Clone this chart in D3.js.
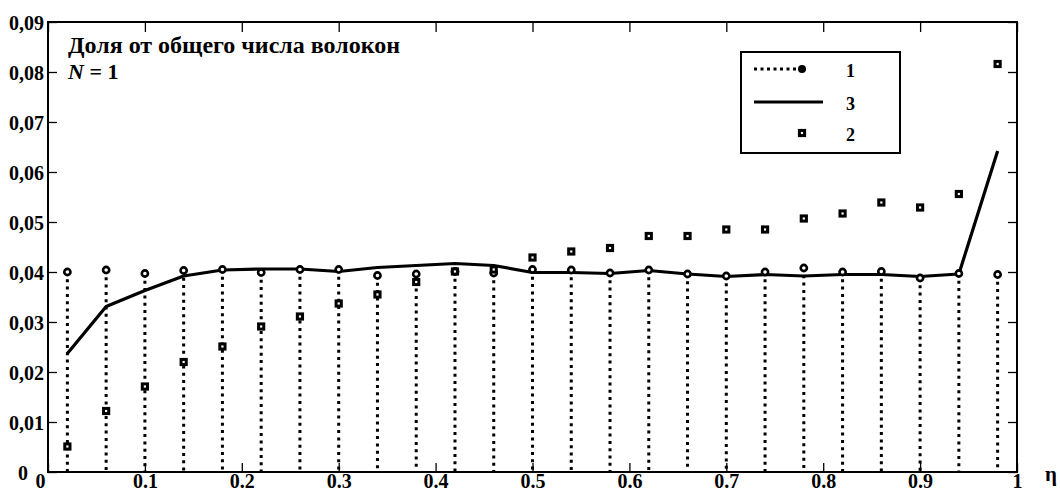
<!DOCTYPE html>
<html lang="ru">
<head>
  <meta charset="UTF-8">
  <title>Доля от общего числа волокон</title>
  <style>
    body { margin: 0; background: #fff; }
    svg { display: block; }
    .tick text, .lbl { font-family: "Liberation Serif", "Times New Roman", serif; font-weight: bold; fill: #000; }
  </style>
</head>
<body>
  <svg id="chart" width="1060" height="492"></svg>

  <script src="https://d3js.org/d3.v7.min.js"></script>
  <script>
    // --- данные ---
    const eta = [0.02, 0.06, 0.10, 0.14, 0.18, 0.22, 0.26, 0.30, 0.34, 0.38, 0.42, 0.46, 0.50,
                 0.54, 0.58, 0.62, 0.66, 0.70, 0.74, 0.78, 0.82, 0.86, 0.90, 0.94, 0.98];
    // кривая 1: точки со штриховыми стойками
    const series1 = [0.0400, 0.0404, 0.0397, 0.0403, 0.0405, 0.0399, 0.0405, 0.0405, 0.0393, 0.0396, 0.0401, 0.0398, 0.0405,
                     0.0404, 0.0398, 0.0404, 0.0396, 0.0392, 0.0400, 0.0408, 0.0400, 0.0401, 0.0388, 0.0397, 0.0395];
    // кривая 2: квадраты
    const series2 = [0.0051, 0.0122, 0.0171, 0.0220, 0.0251, 0.0291, 0.0311, 0.0337, 0.0355, 0.0380, 0.0401, 0.0405, 0.0429,
                     0.0441, 0.0448, 0.0472, 0.0472, 0.0485, 0.0485, 0.0507, 0.0517, 0.0539, 0.0529, 0.0556, 0.0816];
    // кривая 3: сплошная линия
    const series3 = [0.0237, 0.0331, 0.0363, 0.0392, 0.0404, 0.0406, 0.0406, 0.0401, 0.0409, 0.0413, 0.0417, 0.0413, 0.0399,
                     0.0399, 0.0397, 0.0403, 0.0396, 0.0391, 0.0395, 0.0392, 0.0395, 0.0395, 0.0391, 0.0396, 0.0642];
    const xTicks = [0, 0.1, 0.2, 0.3, 0.4, 0.5, 0.6, 0.7, 0.8, 0.9, 1];
    const yTicks = [0, 0.01, 0.02, 0.03, 0.04, 0.05, 0.06, 0.07, 0.08, 0.09];
    const legendItems = ["1", "3", "2"];

    // --- размеры ---
    const margin = { left: 48, top: 22, right: 43, bottom: 20 };
    const W = 1060, H = 492;
    const iw = W - margin.left - margin.right;
    const ih = H - margin.top - margin.bottom;

    const svg = d3.select("#chart");
    const g = svg.append("g").attr("transform", `translate(${margin.left},${margin.top})`);

    const x = d3.scaleLinear().domain([0, 1]).range([0, iw]);
    const y = d3.scaleLinear().domain([0, 0.09]).range([ih, 0]);

    const yFmt = d => d === 0 ? "0" : d3.format(".2f")(d).replace(".", ",");
    const xFmt = d => (d === 0 || d === 1) ? String(d) : d3.format(".1f")(d);

    // --- оси (засечки внутрь) ---
    const axLeft = g.append("g").call(d3.axisLeft(y).tickValues(yTicks).tickSize(-9).tickPadding(4).tickFormat(yFmt));
    const axRight = g.append("g").attr("transform", `translate(${iw},0)`)
      .call(d3.axisRight(y).tickValues(yTicks).tickSize(-9).tickFormat(""));
    const axTop = g.append("g").call(d3.axisTop(x).tickValues(xTicks).tickSize(-10).tickFormat(""));
    const axBottom = g.append("g").attr("transform", `translate(0,${ih})`)
      .call(d3.axisBottom(x).tickValues(xTicks).tickSize(-9).tickFormat(xFmt));

    [axLeft, axRight, axTop, axBottom].forEach(a => {
      a.select(".domain").remove();
      a.selectAll(".tick line").attr("stroke", "#000").attr("stroke-width", 1.3);
    });
    axLeft.selectAll(".tick text").attr("font-size", 20).attr("x", -4).attr("dy", "0.35em")
      .attr("dx", d => d === 0 ? -16 : 0);
    axBottom.selectAll(".tick text").attr("font-size", 20).attr("y", 16).attr("dy", 0)
      .attr("dx", d => d === 0 ? -8 : 0);

    // стойки кривой 1
    g.append("g").selectAll("line")
      .data(eta)
      .join("line")
      .attr("x1", d => x(d)).attr("x2", d => x(d))
      .attr("y1", (d, i) => y(series1[i])).attr("y2", y(0))
      .attr("stroke", "#000").attr("stroke-width", 3)
      .attr("stroke-dasharray", "3,4.3");

    // кривая 3
    const line = d3.line().x((d, i) => x(eta[i])).y(d => y(d));
    g.append("path").datum(series3)
      .attr("d", line)
      .attr("fill", "none").attr("stroke", "#000").attr("stroke-width", 3.2)
      .attr("stroke-linejoin", "round");

    // точки кривой 1
    g.append("g").selectAll("circle")
      .data(eta)
      .join("circle")
      .attr("cx", d => x(d)).attr("cy", (d, i) => y(series1[i]))
      .attr("r", 3.1)
      .attr("fill", "#fff").attr("stroke", "#000").attr("stroke-width", 2.6);

    // квадраты кривой 2
    g.append("g").selectAll("rect")
      .data(eta)
      .join("rect")
      .attr("x", d => x(d) - 2.6).attr("y", (d, i) => y(series2[i]) - 2.6)
      .attr("width", 5.2).attr("height", 5.2)
      .attr("fill", "#fff").attr("stroke", "#000").attr("stroke-width", 3);

    // рамка
    g.append("rect").attr("width", iw).attr("height", ih)
      .attr("fill", "none").attr("stroke", "#000").attr("stroke-width", 2);

    // --- подписи ---
    const title = g.append("text").attr("class", "lbl").attr("x", 20).attr("y", 31).attr("font-size", 24);
    title.text("Доля от общего числа волокон");
    const nText = g.append("text").attr("class", "lbl").attr("x", 20).attr("y", 57).attr("font-size", 22);
    nText.append("tspan").attr("font-style", "italic").text("N");
    nText.append("tspan").text(" = 1");

    svg.append("text").attr("class", "lbl").attr("x", 1045).attr("y", 481)
      .attr("font-size", 21).text("η");

    // --- легенда ---
    const lg = svg.append("g").attr("transform", "translate(741,52)");
    lg.append("rect").attr("width", 159).attr("height", 101)
      .attr("fill", "#fff").attr("stroke", "#000").attr("stroke-width", 2);
    const rowY = [17, 50, 81];
    lg.append("line").attr("x1", 13).attr("x2", 58).attr("y1", rowY[0]).attr("y2", rowY[0])
      .attr("stroke", "#000").attr("stroke-width", 3).attr("stroke-dasharray", "3,3.5");
    lg.append("circle").attr("cx", 61).attr("cy", rowY[0]).attr("r", 4).attr("fill", "#000");
    lg.append("line").attr("x1", 13).attr("x2", 82).attr("y1", rowY[1]).attr("y2", rowY[1])
      .attr("stroke", "#000").attr("stroke-width", 3.2);
    lg.append("rect").attr("x", 58.4).attr("y", rowY[2] - 2.6).attr("width", 5.2).attr("height", 5.2)
      .attr("fill", "#fff").attr("stroke", "#000").attr("stroke-width", 3);
    lg.selectAll("text.item")
      .data(legendItems)
      .join("text")
      .attr("class", "lbl item")
      .attr("x", 105).attr("y", (d, i) => rowY[i] + 7.5)
      .attr("font-size", 18)
      .text(d => d);
  </script>
</body>
</html>
